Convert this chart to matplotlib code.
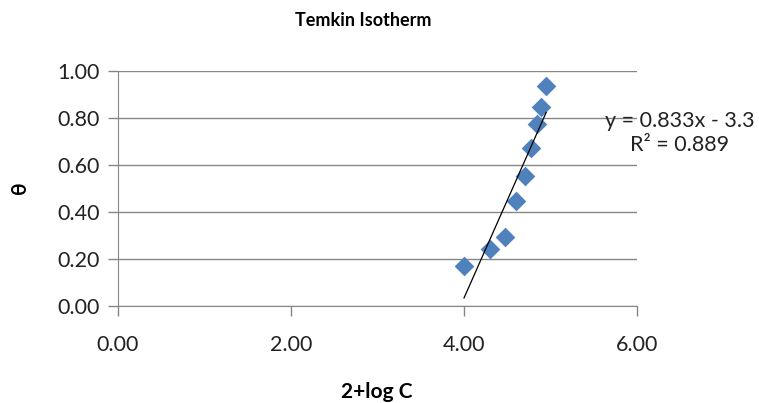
import numpy as np
import matplotlib.pyplot as plt

# Temkin isotherm data
logC = [4.00, 4.30, 4.47, 4.60, 4.70, 4.77, 4.84, 4.89, 4.95]
theta = [0.17, 0.24, 0.29, 0.445, 0.553, 0.672, 0.776, 0.848, 0.934]

slope = 0.833
intercept = -3.3
r2 = 0.889

xticks = [0, 2, 4, 6]
yticks = [0, 0.2, 0.4, 0.6, 0.8, 1.0]

plt.rcParams['font.family'] = ['Lato', 'DejaVu Sans']

fig = plt.figure(figsize=(7.59, 4.03), dpi=100)
ax = fig.add_axes([118/759, 1-305.5/403, (637-118)/759, (305.5-71)/403])

ax.scatter(logC, theta, marker='D', s=100, color='#4F81BD', zorder=3, linewidths=0)

xfit = np.array([min(logC), max(logC)])
ax.plot(xfit, slope*xfit + intercept, color='black', lw=0.9, zorder=4)

ax.set_xlim(0, 6)
ax.set_ylim(0, 1.0)
ax.set_xticks(xticks)
ax.set_yticks(yticks)
ax.set_xticklabels(['{:.2f}'.format(v) for v in xticks])
ax.set_yticklabels(['{:.2f}'.format(v) for v in yticks])
ax.tick_params(labelsize=15.5, colors='#868686', length=7, width=1, labelcolor='#222222', pad=6)
ax.tick_params(axis='x', pad=14)
ax.grid(axis='y', color='#868686', lw=1)
ax.set_axisbelow(True)
for s in ['top', 'right']:
    ax.spines[s].set_visible(False)
for s in ['left', 'bottom']:
    ax.spines[s].set_color('#868686')

fig.text(363/759, 1-21/403, 'Temkin Isotherm', ha='center', va='center', fontsize=13, fontweight='bold')
fig.text(377/759, 1-392/403, '2+log C', ha='center', va='center', fontsize=15, fontweight='bold')
fig.text(20/759, 1-188/403, 'θ', ha='center', va='center', fontsize=15, fontweight='bold', rotation=90)
fig.text(680/759, 1-133/403,
         'y = {}x - {}\nR² = {}'.format(slope, -intercept, r2),
         ha='center', va='center', fontsize=15.5, linespacing=1.3, color='#222222')

fig.savefig('out.png', dpi=100)
